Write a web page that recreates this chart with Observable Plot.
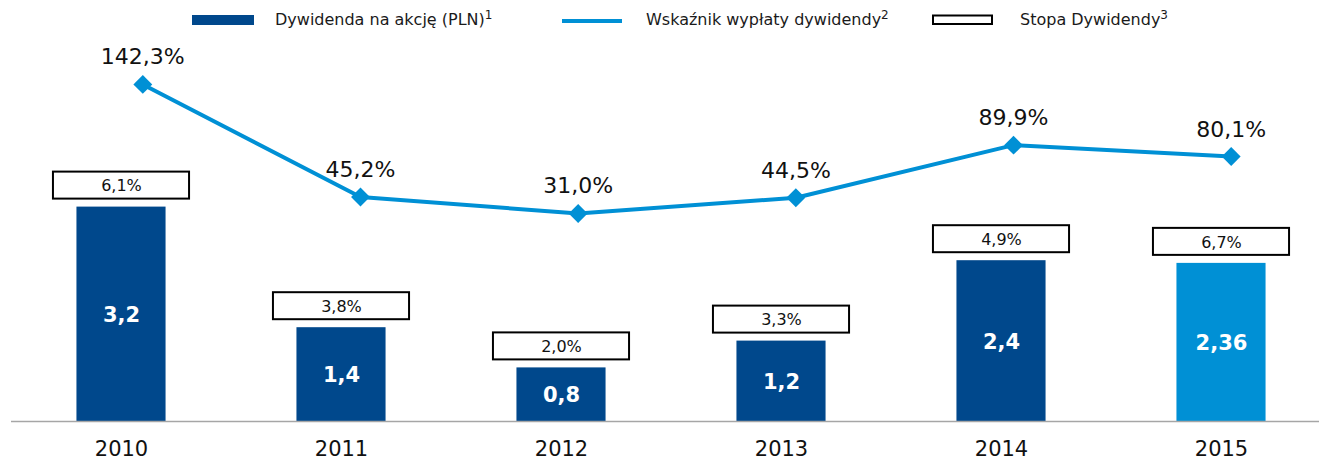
<!DOCTYPE html>
<html>
<head>
<meta charset="utf-8">
<script src="https://cdn.jsdelivr.net/npm/d3@7"></script>
<script src="https://cdn.jsdelivr.net/npm/@observablehq/plot@0.6"></script>
<style>
  html, body { margin: 0; padding: 0; background: #ffffff; }
  body { font-family: "DejaVu Sans", Verdana, sans-serif; width: 1319px; }
  #legend { display: block; }
  #chart { position: relative; width: 1319px; height: 425px; }
  #chart svg { display: block; position: absolute; left: 0; top: 0; }
</style>
</head>
<body>
<svg id="legend" width="1319" height="36" font-family="DejaVu Sans, Verdana, sans-serif" font-size="16">
  <rect x="192" y="15" width="62" height="10" fill="#00488C"></rect>
  <text x="275" y="25" fill="#1a1a1a">Dywidenda na akcję (PLN)<tspan font-size="12" dy="-6">1</tspan></text>
  <line x1="562" x2="622" y1="21" y2="21" stroke="#0090D5" stroke-width="4"></line>
  <text x="646" y="25" fill="#1a1a1a">Wskaźnik wypłaty dywidendy<tspan font-size="12" dy="-6">2</tspan></text>
  <rect x="933" y="15.5" width="59" height="8.5" fill="#ffffff" stroke="#000000" stroke-width="2"></rect>
  <text x="1020" y="25" fill="#1a1a1a">Stopa Dywidendy<tspan font-size="12" dy="-6">3</tspan></text>
</svg>
<div id="chart"></div>
<script>
// ---- data ----
const years = ["2010", "2011", "2012", "2013", "2014", "2015"];
const dividendPerShare = [3.2, 1.4, 0.8, 1.2, 2.4, 2.36];   // PLN
const payoutRatio = [142.3, 45.2, 31.0, 44.5, 89.9, 80.1];  // %
const dividendYield = [6.1, 3.8, 2.0, 3.3, 4.9, 6.7];       // %
const proposedYear = "2015";

const darkBlue = "#00488C";
const lightBlue = "#0090D5";

const data = years.map((year, i) => ({
  year,
  dividend: dividendPerShare[i],
  payout: payoutRatio[i],
  yld: dividendYield[i]
}));

const comma = (v, digits) => (digits == null ? String(v) : v.toFixed(digits)).replace(".", ",");

// secondary (payout ratio) axis mapped onto the bar axis units
const ratioToY = d3.scaleLinear([0, 100], [2.569, 4.299]);

const common = {
  width: 1319,
  height: 425,
  marginLeft: 11,
  marginRight: 0,
  marginTop: 10,
  marginBottom: 40,
  style: { fontFamily: "DejaVu Sans, Verdana, sans-serif", fontSize: "21px", color: "#111", background: "transparent" },
  y: { domain: [0, 5.5], range: [385, 16.5], axis: null }
};

const chart = Plot.plot({
  ...common,
  x: { domain: years, range: [11, 1331], paddingInner: 0.595, paddingOuter: 0.2975, round: false, label: null, tickSize: 0, tickPadding: 20 },
  marks: [
    Plot.barY(data, { x: "year", y: "dividend", fill: d => d.year === proposedYear ? lightBlue : darkBlue }),
    Plot.ruleY([0], { stroke: "#a6a6a6", strokeWidth: 1.5 }),
    Plot.text(data, { x: "year", y: d => d.dividend / 2, text: d => comma(d.dividend), fill: "white", fontWeight: "bold", fontSize: 21, dy: 1 }),
    Plot.barY(data, { x: "year", y1: "dividend", y2: "dividend", fill: "white", stroke: "black", strokeWidth: 2,
      insetTop: -35, insetBottom: 8, insetLeft: -23.5, insetRight: -23.5 }),
    Plot.text(data, { x: "year", y: "dividend", dy: -21, text: d => comma(d.yld, 1) + "%", fontSize: 16, fill: "#111" })
  ]
});

// payout-ratio line uses its own (point) x scale, slightly offset from the bars
const lineChart = Plot.plot({
  ...common,
  x: { type: "point", domain: years, range: [142.3, 1230.7], padding: 0, round: false, axis: null },
  marks: [
    Plot.line(data, { x: "year", y: d => ratioToY(d.payout), stroke: lightBlue, strokeWidth: 4 }),
    Plot.dot(data, { x: "year", y: d => ratioToY(d.payout), symbol: "diamond2", r: 8.5, fill: lightBlue, stroke: "none" }),
    Plot.text(data, { x: "year", y: d => ratioToY(d.payout), dy: -27, text: d => comma(d.payout, 1) + "%", fontSize: 22, fill: "#111" })
  ]
});

const holder = document.getElementById("chart");
holder.appendChild(chart);
holder.appendChild(lineChart);
</script>
</body>
</html>
